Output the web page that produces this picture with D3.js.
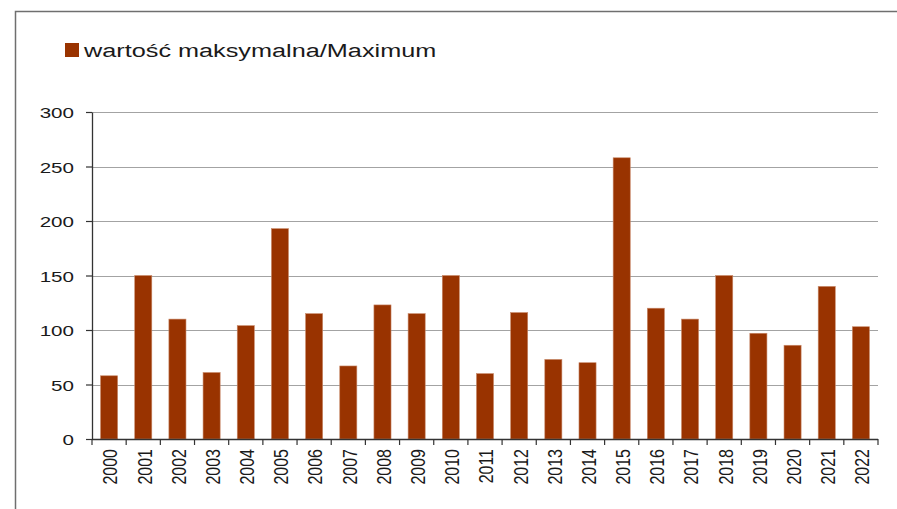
<!DOCTYPE html>
<html>
<head>
<meta charset="utf-8">
<script src="https://cdn.jsdelivr.net/npm/d3@7"></script>
<style>
  body { margin: 0; background: #fff; }
  svg { display: block; }
  text { font-family: "Liberation Sans", Arial, sans-serif; fill: #1a1a1a; }
</style>
</head>
<body>
<svg></svg>
<script>
// Data
let years = ["2000", "2001", "2002", "2003", "2004", "2005", "2006", "2007", "2008", "2009", "2010", "2011",
  "2012", "2013", "2014", "2015", "2016", "2017", "2018", "2019", "2020", "2021", "2022"];
let maxValues = [58, 150, 110, 61, 104, 193, 115, 67, 123, 115, 150, 60,
  116, 73, 70, 258, 120, 110, 150, 97, 86, 140, 103];
let yTicks = [0, 50, 100, 150, 200, 250, 300];
let seriesName = "wartość maksymalna/Maximum";

let width = 897;
let height = 509;
let plotLeft = 92, plotRight = 878, plotTop = 112, plotBottom = 439;
let stretch = 1.33; // text in the picture is drawn wider than tall

let svg = d3.select("svg").attr("width", width).attr("height", height);

// outer frame (only top and left visible)
svg.append("path")
  .attr("d", `M15.5,${height} L15.5,11.5 L${width},11.5`)
  .attr("fill", "none")
  .attr("stroke", "#6f6f6f")
  .attr("stroke-width", 1.5);

let x = d3.scaleBand().domain(years).range([plotLeft, plotRight]).paddingInner(0.5).paddingOuter(0.25);
let y = d3.scaleLinear().domain([0, 300]).range([plotBottom, plotTop]);

// gridlines
svg.append("g")
  .selectAll("line")
  .data(yTicks.filter((d) => d > 0))
  .enter()
  .append("line")
  .attr("x1", plotLeft)
  .attr("x2", plotRight)
  .attr("y1", (d) => Math.round(y(d)) + 0.5)
  .attr("y2", (d) => Math.round(y(d)) + 0.5)
  .attr("stroke", "#a3a3a3")
  .attr("stroke-width", 1.2);

// bars
svg.append("g")
  .selectAll("rect")
  .data(maxValues)
  .enter()
  .append("rect")
  .attr("x", (d, i) => x(years[i]))
  .attr("width", x.bandwidth())
  .attr("y", (d) => y(d))
  .attr("height", (d) => y(0) - y(d))
  .attr("fill", "#993300")
  .attr("stroke", "#c98a6a")
  .attr("stroke-width", 0.6);

// y axis
let yAxis = d3.axisLeft(y).tickValues(yTicks).tickSize(6).tickSizeOuter(0);
let yg = svg.append("g").attr("transform", `translate(${plotLeft}, 0)`).call(yAxis);
yg.select(".domain").attr("stroke", "#333").attr("stroke-width", 1.3);
yg.selectAll(".tick line").attr("stroke", "#333").attr("stroke-width", 1.2);
yg.selectAll(".tick text")
  .attr("x", -18 / stretch)
  .attr("dy", "0.36em")
  .attr("transform", `scale(${stretch},1)`)
  .style("font-size", "15.5px")
  .style("font-family", "'Liberation Sans', Arial, sans-serif")
  .attr("fill", "#1a1a1a");

// x axis line and ticks at category boundaries
let step = x.step();
let bounds = years.map((d) => x(d) - step * 0.25).concat([plotRight]);
svg.append("line")
  .attr("x1", plotLeft).attr("x2", plotRight)
  .attr("y1", plotBottom + 0.5).attr("y2", plotBottom + 0.5)
  .attr("stroke", "#333").attr("stroke-width", 1.3);
svg.append("g")
  .selectAll("line")
  .data(bounds)
  .enter()
  .append("line")
  .attr("x1", (d) => d).attr("x2", (d) => d)
  .attr("y1", plotBottom).attr("y2", plotBottom + 6)
  .attr("stroke", "#333").attr("stroke-width", 1.2);

// x labels, rotated
svg.append("g")
  .selectAll("text")
  .data(years)
  .enter()
  .append("text")
  .attr("transform", (d) => `translate(${x(d) + x.bandwidth() / 2 + 1}, ${plotBottom + 10}) scale(1.27,1) rotate(-90)`)
  .attr("text-anchor", "end")
  .attr("dy", "0.36em")
  .style("font-size", "16px")
  .text((d) => d);

// legend
svg.append("rect")
  .attr("x", 65).attr("y", 43)
  .attr("width", 14).attr("height", 14)
  .attr("fill", "#993300");
svg.append("text")
  .attr("transform", `translate(84, 57) scale(${stretch},1)`)
  .style("font-size", "19px")
  .text(seriesName);
</script>
</body>
</html>
